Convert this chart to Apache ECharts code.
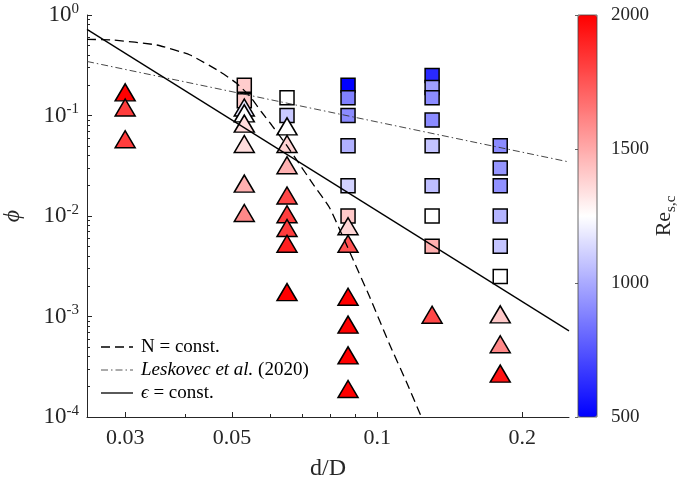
<!DOCTYPE html>
<html><head><meta charset="utf-8">
<script src="https://cdn.jsdelivr.net/npm/echarts@6/dist/echarts.min.js"></script>
<style>html,body{margin:0;padding:0;background:#fff}#c{width:679px;height:489px}</style>
</head><body><div id="c"></div>
<script>
// ---- tick values ----
const xTickValues = [0.03, 0.05, 0.1, 0.2];
const xMinorTickValues = [0.04, 0.06, 0.07, 0.08, 0.09];
const reTickValues = [500, 1000, 1500, 2000];

// ---- square markers: d/D, phi, Re_s,c ----
const squareX   = [0.053,0.053, 0.065,0.065, 0.087,0.087,0.087,0.087,0.087,0.087, 0.13,0.13,0.13,0.13,0.13,0.13,0.13,0.13, 0.18,0.18,0.18,0.18,0.18,0.18];
const squarePhi = [0.2,0.14, 0.15,0.1, 0.2,0.15,0.1,0.05,0.02,0.01, 0.25,0.19,0.15,0.09,0.05,0.02,0.01,0.005, 0.05,0.03,0.02,0.01,0.005,0.0025];
const squareRe  = [1400,1400, 1250,1090, 500,875,910,1020,1120,1410, 620,970,910,910,1075,1060,1250,1485, 910,940,925,1030,1075,1250];

// ---- triangle markers: d/D, phi, Re_s,c ----
const triX   = [0.03,0.03,0.03, 0.053,0.053,0.053,0.053,0.053,0.053, 0.065,0.065,0.065,0.065,0.065,0.065,0.065,0.065, 0.087,0.087,0.087,0.087,0.087,0.087, 0.13, 0.18,0.18,0.18];
const triPhi = [0.17,0.12,0.058, 0.12,0.105,0.083,0.052,0.021,0.0107, 0.078,0.052,0.032,0.016,0.0104,0.0076,0.0053,0.00175, 0.0079,0.0053,0.00157,0.00083,0.00041,0.00019, 0.00104, 0.00105,0.00053,0.00027];
const triRe  = [2000,1820,1820, 1175,1250,1350,1350,1485,1600, 1250,1380,1480,1790,1820,1820,1910,2000, 1370,1760,2000,2000,2000,2000, 1790, 1410,1600,1940];

// ---- model lines ----
const nConstX = [0.025,0.0283,0.0349,0.0409,0.0472,0.0511,0.0544,0.0575,0.0604,0.0648,0.0685,0.0736,0.0797,0.0877,0.0965,0.106,0.115,0.1235];
const nConstY = [0.573,0.564,0.503,0.400,0.273,0.209,0.156,0.109,0.0804,0.0509,0.0345,0.0208,0.0120,0.00438,0.00156,0.000533,0.000223,0.0001];
const leskX = [0.025, 0.25];
const leskY = [0.345, 0.0345];
const epsX = [0.025, 0.25];
const epsY = [0.72, 0.00072];

const legendLabels = ['N = const.', '{i|Leskovec et al.} (2020)', '{i|ϵ} = const.'];

const FONT = 'Liberation Serif';
const AX = '#262626';
const pairs = (a, b) => a.map((v, i) => [v, b[i]]);
const triples = (a, b, c) => a.map((v, i) => [v, b[i], c[i]]);

const chart = echarts.init(document.getElementById('c'), null, {renderer: 'canvas', width: 679, height: 489});

const legendY = [347, 370, 393];
const legendStyles = [
  {lineDash: [9, 5], lineWidth: 1.3, stroke: '#000'},
  {lineDash: [7, 3, 1.5, 3], lineWidth: 0.9, stroke: '#444'},
  {lineDash: null, lineWidth: 1.3, stroke: '#000'}
];
const graphic = [];
legendLabels.forEach((t, i) => {
  graphic.push({type: 'line', shape: {x1: 101, y1: legendY[i], x2: 133, y2: legendY[i]}, style: legendStyles[i], z: 50});
  graphic.push({type: 'text', x: 141, y: legendY[i], z: 50, style: {
    text: t, fontFamily: FONT, fontSize: 19, fill: '#000', verticalAlign: 'middle', align: 'left',
    rich: {i: {fontFamily: FONT, fontSize: 19, fontStyle: 'italic', fill: '#000'}}
  }});
});
graphic.push({type: 'rect', shape: {x: 578, y: 15, width: 19, height: 402}, style: {fill: null, stroke: '#444', lineWidth: 0.8}, z: 100});

const option = {
  animation: false,
  backgroundColor: '#fff',
  grid: [
    {left: 87, top: 15, right: 110, bottom: 72, containLabel: false, outerBoundsMode: 'none'},
    {left: 578, top: 15, width: 19, height: 402, containLabel: false, outerBoundsMode: 'none'}
  ],
  xAxis: [
    {type: 'log', gridIndex: 0, logBase: 10, min: 0.025, max: 0.25, position: 'bottom',
     axisLine: {show: true, onZero: false, lineStyle: {color: AX, width: 1}},
     axisTick: {show: true, inside: true, length: 5, customValues: xTickValues, lineStyle: {color: AX, width: 1}},
     axisLabel: {show: true, customValues: xTickValues, margin: 10, fontFamily: FONT, fontSize: 22, color: AX, formatter: v => String(v)},
     splitLine: {show: false}, minorTick: {show: false},
     name: 'd/D', nameLocation: 'middle', nameGap: 40, nameTextStyle: {fontFamily: FONT, fontSize: 24, color: AX}},
    {type: 'log', gridIndex: 0, logBase: 10, min: 0.025, max: 0.25, position: 'bottom', offset: 0,
     axisLine: {show: false, onZero: false},
     axisTick: {show: true, inside: true, length: 3, customValues: xMinorTickValues, lineStyle: {color: AX, width: 1}},
     axisLabel: {show: false}, splitLine: {show: false}},
    {type: 'value', gridIndex: 1, min: 0, max: 1, show: false}
  ],
  yAxis: [
    {type: 'log', gridIndex: 0, logBase: 10, min: 1e-4, max: 1, position: 'left',
     axisLine: {show: true, onZero: false, lineStyle: {color: AX, width: 1}},
     axisTick: {show: true, inside: true, length: 5, lineStyle: {color: AX, width: 1}},
     minorTick: {show: true, splitNumber: 9, length: 3, lineStyle: {color: AX, width: 1}},
     axisLabel: {show: true, margin: 8, align: 'right', color: AX,
       formatter: v => '{b|10}{s|' + Math.round(Math.log10(v)) + '}',
       rich: {b: {fontFamily: FONT, fontSize: 23, color: AX},
              s: {fontFamily: FONT, fontSize: 15, color: AX, padding: [0, 0, 12, 0]}}},
     splitLine: {show: false},
     name: 'ϕ', nameLocation: 'middle', nameGap: 62, nameRotate: 90,
     nameTextStyle: {fontFamily: FONT, fontSize: 24, fontStyle: 'italic', color: AX}},
    {type: 'value', gridIndex: 1, min: 500, max: 2000, interval: 500, position: 'right', z: 10,
     axisLine: {show: false},
     axisTick: {show: true, inside: true, length: 3, customValues: reTickValues, lineStyle: {color: '#666', width: 1}},
     axisLabel: {show: true, margin: 14, fontFamily: FONT, fontSize: 19, color: AX, formatter: v => String(v)},
     splitLine: {show: false},
     name: '{a|Re}{b|s,c}', nameLocation: 'middle', nameRotate: 90, nameGap: 48,
     nameTextStyle: {color: AX, rich: {a: {fontFamily: FONT, fontSize: 22, lineHeight: 26, color: AX, verticalAlign: 'top'},
                                      b: {fontFamily: FONT, fontSize: 15, lineHeight: 15, color: AX, verticalAlign: 'bottom'}}}}
  ],
  visualMap: {
    type: 'continuous', min: 500, max: 2000, dimension: 2, seriesIndex: [3, 4],
    calculable: false, hoverLink: false, orient: 'vertical',
    left: 573, top: 10, padding: 5, itemWidth: 19, itemHeight: 402, text: null,
    inRange: {color: ['#0000ff', '#ffffff', '#ff0000']}
  },
  graphic: graphic,
  series: [
    {type: 'line', name: 'N = const.', xAxisIndex: 0, yAxisIndex: 0, data: pairs(nConstX, nConstY),
     symbol: 'none', z: 5, silent: true, smooth: 0.15, lineStyle: {color: '#000', width: 1.3, type: [9, 5]}},
    {type: 'line', name: 'Leskovec', xAxisIndex: 0, yAxisIndex: 0, data: pairs(leskX, leskY),
     symbol: 'none', z: 5, silent: true, lineStyle: {color: '#333', width: 0.9, type: [7, 3, 1.5, 3]}},
    {type: 'line', name: 'eps', xAxisIndex: 0, yAxisIndex: 0, data: pairs(epsX, epsY),
     symbol: 'none', z: 5, silent: true, lineStyle: {color: '#000', width: 1.3, type: 'solid'}},
    {type: 'scatter', name: 'squares', xAxisIndex: 0, yAxisIndex: 0, data: triples(squareX, squarePhi, squareRe),
     symbol: 'rect', symbolSize: 14, z: 2, silent: true,
     itemStyle: {borderColor: '#000', borderWidth: 1.5, opacity: 1}},
    {type: 'scatter', name: 'triangles', xAxisIndex: 0, yAxisIndex: 0, data: triples(triX, triPhi, triRe),
     symbol: 'triangle', symbolSize: [20, 17], z: 3, silent: true,
     itemStyle: {borderColor: '#000', borderWidth: 1.5, opacity: 1}}
  ]
};
chart.setOption(option);
</script></body></html>
